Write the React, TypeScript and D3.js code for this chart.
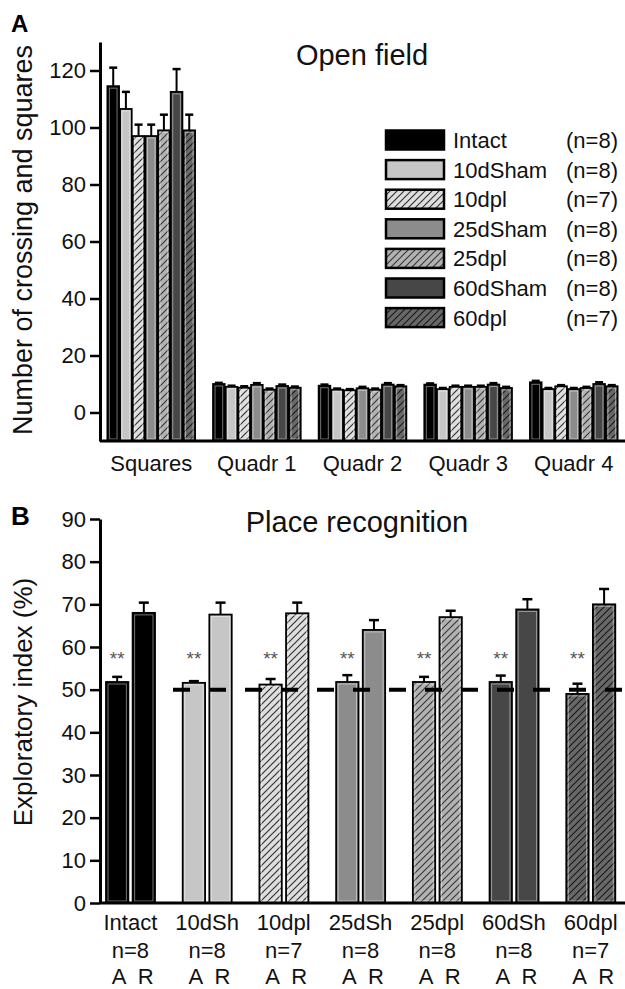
import React, { useEffect, useRef } from 'react';
import * as d3 from 'd3';

// groups shared by both panels
const groups = ['Intact', '10dSham', '10dpl', '25dSham', '25dpl', '60dSham', '60dpl'];
const groupN = ['(n=8)', '(n=8)', '(n=7)', '(n=8)', '(n=8)', '(n=8)', '(n=7)'];

// panel A - open field
const fieldCategories = ['Squares', 'Quadr 1', 'Quadr 2', 'Quadr 3', 'Quadr 4'];
const squaresMean = [114.5, 106.5, 97, 97, 99, 112.5, 99];
const squaresErr = [6.5, 6, 4, 4, 5.5, 8, 5.5];
const quadr1Mean = [10.0, 9.0, 8.7, 9.7, 8.0, 9.3, 8.7];
const quadr1Err = [0.4, 0.4, 0.5, 0.6, 0.4, 0.5, 0.4];
const quadr2Mean = [9.4, 8.0, 7.8, 8.5, 8.0, 9.8, 9.2];
const quadr2Err = [0.4, 0.4, 0.4, 0.5, 0.4, 0.5, 0.4];
const quadr3Mean = [9.8, 8.2, 9.0, 9.0, 9.0, 9.8, 8.6];
const quadr3Err = [0.4, 0.4, 0.4, 0.4, 0.4, 0.5, 0.4];
const quadr4Mean = [10.6, 8.2, 9.2, 8.2, 8.6, 10.0, 9.2];
const quadr4Err = [0.5, 0.4, 0.4, 0.4, 0.4, 0.6, 0.4];
const fieldTicks = [0, 20, 40, 60, 80, 100, 120];

// panel B - place recognition
const placeLabels = ['Intact', '10dSh', '10dpl', '25dSh', '25dpl', '60dSh', '60dpl'];
const placeN = ['n=8', 'n=8', 'n=7', 'n=8', 'n=8', 'n=8', 'n=7'];
const objects = ['A', 'R'];
const placeA = [51.8, 51.6, 51.2, 51.8, 51.8, 51.8, 49.0];
const placeAErr = [1.2, 0.4, 1.3, 1.6, 1.2, 1.5, 2.4];
const placeR = [68.0, 67.6, 67.9, 64.0, 67.0, 68.8, 70.0];
const placeRErr = [2.4, 2.8, 2.5, 2.3, 1.5, 2.4, 3.6];
const placeTicks = [0, 10, 20, 30, 40, 50, 60, 70, 80, 90];
const chanceLevel = 50;
const starLabel = '**';

const fills = ['#000', '#c6c6c6', 'url(#hatch1)', '#8c8c8c', 'url(#hatch2)', '#474747', 'url(#hatch3)'];
const font = '"Liberation Sans", Arial, sans-serif';

function App() {
  const svgRef = useRef<SVGSVGElement>(null);

  useEffect(() => {
    const svg = d3.select(svgRef.current);
    svg.selectAll('*').remove();

    // hatch patterns
    const defs = svg.append('defs');
    const hatches = [
      { id: 'hatch1', bg: '#dedede', line: '#333' },
      { id: 'hatch2', bg: '#b2b2b2', line: '#3a3a3a' },
      { id: 'hatch3', bg: '#686868', line: '#1a1a1a' },
    ];
    hatches.forEach(h => {
      const p = defs.append('pattern')
        .attr('id', h.id)
        .attr('patternUnits', 'userSpaceOnUse')
        .attr('width', 7)
        .attr('height', 7);
      p.append('rect').attr('width', 7).attr('height', 7).attr('fill', h.bg);
      p.append('path')
        .attr('d', 'M-1,1 l2,-2 M0,7 l7,-7 M6,8 l2,-2')
        .attr('stroke', h.line)
        .attr('stroke-width', 1.2);
    });

    const drawBar = (g, x, w, yTop, yBottom, fill) => {
      g.append('rect')
        .attr('x', x).attr('y', yTop)
        .attr('width', w).attr('height', yBottom - yTop)
        .attr('fill', fill)
        .attr('stroke', '#000').attr('stroke-width', 1.8);
      if (w > 6) {
        g.append('rect')
          .attr('x', x + 2).attr('y', yTop + 2)
          .attr('width', w - 4).attr('height', Math.max(0, yBottom - yTop - 4))
          .attr('fill', 'none')
          .attr('stroke', '#fff').attr('stroke-opacity', 0.45).attr('stroke-width', 1);
      }
    };

    const drawErr = (g, cx, y0, y1, cap) => {
      g.append('line').attr('x1', cx).attr('x2', cx).attr('y1', y0).attr('y2', y1)
        .attr('stroke', '#000').attr('stroke-width', 2);
      g.append('line').attr('x1', cx - cap / 2).attr('x2', cx + cap / 2).attr('y1', y1).attr('y2', y1)
        .attr('stroke', '#000').attr('stroke-width', 2.5);
    };

    const styleAxis = (g) => {
      g.select('.domain').attr('stroke', '#000').attr('stroke-width', 3);
      g.selectAll('.tick line').attr('stroke', '#000').attr('stroke-width', 2.5);
      g.selectAll('.tick text').attr('font-size', 22).attr('font-family', font).attr('fill', '#111');
    };

    // ---------- panel A ----------
    const fieldMeans = [squaresMean, quadr1Mean, quadr2Mean, quadr3Mean, quadr4Mean];
    const fieldErrs = [squaresErr, quadr1Err, quadr2Err, quadr3Err, quadr4Err];

    const yA = d3.scaleLinear().domain([-10, 130]).range([441, 42]);
    const xA = d3.scaleBand().domain(fieldCategories).range([100, 625]).paddingInner(0.17).paddingOuter(0.07);
    const xAin = d3.scaleBand().domain(groups).range([0, xA.bandwidth()]).paddingInner(0.08);

    const gA = svg.append('g');
    fieldCategories.forEach((c, ci) => {
      groups.forEach((grp, gi) => {
        const x = xA(c) + xAin(grp);
        const v = fieldMeans[ci][gi];
        drawErr(gA, x + xAin.bandwidth() / 2, yA(v), yA(v + fieldErrs[ci][gi]), 8);
        drawBar(gA, x, xAin.bandwidth(), yA(v), yA(-10), fills[gi]);
      });
    });

    const axA = svg.append('g').attr('transform', 'translate(100,0)')
      .call(d3.axisLeft(yA).tickValues(fieldTicks).tickSize(10).tickSizeOuter(0).tickPadding(4));
    styleAxis(axA);

    svg.append('line').attr('x1', 100).attr('x2', 625).attr('y1', 441).attr('y2', 441)
      .attr('stroke', '#000').attr('stroke-width', 3);

    svg.append('g').selectAll('text').data(fieldCategories).enter().append('text')
      .attr('x', d => xA(d) + xA.bandwidth() / 2)
      .attr('y', 471)
      .attr('text-anchor', 'middle')
      .attr('font-size', 22).attr('font-family', font).attr('fill', '#111')
      .text(d => d);

    svg.append('text').attr('x', 362).attr('y', 65).attr('text-anchor', 'middle')
      .attr('font-size', 29).attr('font-family', font).attr('fill', '#111').text('Open field');

    svg.append('text')
      .attr('transform', 'translate(32,240) rotate(-90)')
      .attr('text-anchor', 'middle')
      .attr('font-size', 27).attr('font-family', font).attr('fill', '#111')
      .text('Number of crossing and squares');

    svg.append('text').attr('x', 11).attr('y', 32)
      .attr('font-size', 24).attr('font-weight', 'bold').attr('font-family', font).text('A');

    // legend
    const legend = svg.append('g');
    groups.forEach((grp, i) => {
      const cy = 140 + i * 29.6;
      legend.append('rect')
        .attr('x', 386).attr('y', cy - 9.5).attr('width', 58).attr('height', 19)
        .attr('fill', fills[i]).attr('stroke', '#000').attr('stroke-width', 2.5);
      legend.append('text').attr('x', 453).attr('y', cy + 8)
        .attr('font-size', 22).attr('font-family', font).attr('fill', '#111').text(grp);
      legend.append('text').attr('x', 618).attr('y', cy + 8).attr('text-anchor', 'end')
        .attr('font-size', 22).attr('font-family', font).attr('fill', '#111').text(groupN[i]);
    });

    // ---------- panel B ----------
    const yB = d3.scaleLinear().domain([0, 90]).range([903, 519]);
    const xB = d3.scaleBand().domain(placeLabels).range([92, 629]);
    const xBin = d3.scaleBand().domain(objects).range([14, 63]).paddingInner(0.16);

    const gB = svg.append('g');
    placeLabels.forEach((grp, gi) => {
      const vals = [placeA[gi], placeR[gi]];
      const errs = [placeAErr[gi], placeRErr[gi]];
      objects.forEach((o, oi) => {
        const x = xB(grp) + xBin(o);
        drawErr(gB, x + xBin.bandwidth() / 2, yB(vals[oi]), yB(vals[oi] + errs[oi]), 10);
        drawBar(gB, x, xBin.bandwidth(), yB(vals[oi]), yB(0), fills[gi]);
      });
      gB.append('text')
        .attr('x', xB(grp) + xBin('A') + xBin.bandwidth() / 2)
        .attr('y', 665)
        .attr('text-anchor', 'middle')
        .attr('font-size', 19).attr('font-family', font).attr('fill', '#555')
        .text(starLabel);
    });

    svg.append('line')
      .attr('x1', 173).attr('x2', 625).attr('y1', yB(chanceLevel)).attr('y2', yB(chanceLevel))
      .attr('stroke', '#000').attr('stroke-width', 4).attr('stroke-dasharray', '17 19');

    const axB = svg.append('g').attr('transform', 'translate(100,0)')
      .call(d3.axisLeft(yB).tickValues(placeTicks).tickSize(10).tickSizeOuter(0).tickPadding(4));
    styleAxis(axB);

    svg.append('line').attr('x1', 100).attr('x2', 625).attr('y1', 903).attr('y2', 903)
      .attr('stroke', '#000').attr('stroke-width', 3);

    const labB = svg.append('g').attr('font-size', 22).attr('font-family', font).attr('fill', '#111');
    placeLabels.forEach((grp, gi) => {
      const cx = xB(grp) + xB.bandwidth() / 2;
      labB.append('text').attr('x', cx).attr('y', 930).attr('text-anchor', 'middle').text(grp);
      labB.append('text').attr('x', cx).attr('y', 958).attr('text-anchor', 'middle').text(placeN[gi]);
      objects.forEach(o => {
        labB.append('text')
          .attr('x', xB(grp) + xBin(o) + xBin.bandwidth() / 2 + 2)
          .attr('y', 984).attr('text-anchor', 'middle').text(o);
      });
    });

    svg.append('text').attr('x', 357).attr('y', 532).attr('text-anchor', 'middle')
      .attr('font-size', 29).attr('font-family', font).attr('fill', '#111').text('Place recognition');

    svg.append('text')
      .attr('transform', 'translate(32,702) rotate(-90)')
      .attr('text-anchor', 'middle')
      .attr('font-size', 26).attr('font-family', font).attr('fill', '#111')
      .text('Exploratory index (%)');

    svg.append('text').attr('x', 11).attr('y', 525)
      .attr('font-size', 26).attr('font-weight', 'bold').attr('font-family', font).text('B');
  }, []);

  return (
    <svg
      ref={svgRef}
      width={625}
      height={989}
      style={{ position: 'absolute', left: 0, top: 0, background: '#fff' }}
    ></svg>
  );
}

export default App;
